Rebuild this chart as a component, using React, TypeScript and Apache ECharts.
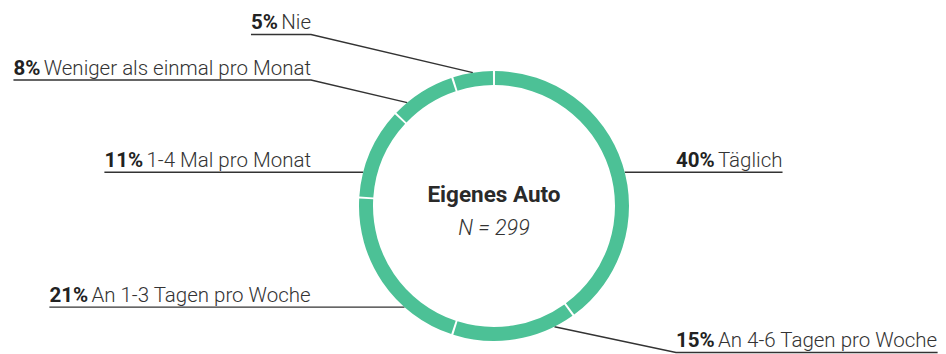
import React, { useEffect, useRef } from "react";
import * as echarts from "echarts";

const categories = [
  "Täglich",
  "An 4-6 Tagen pro Woche",
  "An 1-3 Tagen pro Woche",
  "1-4 Mal pro Monat",
  "Weniger als einmal pro Monat",
  "Nie",
];
const values = [40, 15, 21, 11, 8, 5];
const centerTitle = "Eigenes Auto";
const centerSubtitle = "N = 299";

// label layout: side, anchor angle on ring (deg clockwise from top), underline y (null = anchor y)
const labelSide = ["right", "right", "left", "left", "left", "left"];
const anchorAngle = [75.5, 153.4, 221.5, 284.5, 320, 351];
const underlineY: (number | null)[] = [null, 352.5, null, null, 80, 34.5];

const FONT = "Roboto, 'Noto Sans', sans-serif";
const CX = 494;
const CY = 206;
const R_IN = 121;
const R_OUT = 135;
const LEFT_TEXT_X = 311;
const RIGHT_TEXT_X = 676;

export default function App() {
  const ref = useRef<HTMLDivElement>(null);
  useEffect(() => {
    if (!ref.current) return;
    const chart = echarts.init(ref.current, undefined, { renderer: "svg" });
    chart.setOption({
      animation: false,
      backgroundColor: "#ffffff",
      graphic: [
        {
          type: "text",
          x: CX,
          y: 194,
          style: {
            text: centerTitle,
            align: "center",
            verticalAlign: "middle",
            fontFamily: FONT,
            fontSize: 22.5,
            fontWeight: "bold",
            fill: "#2a2a2a",
          },
        },
        {
          type: "text",
          x: CX,
          y: 227,
          style: {
            text: centerSubtitle,
            align: "center",
            verticalAlign: "middle",
            fontFamily: FONT,
            fontSize: 21.5,
            fontStyle: "italic",
            fontWeight: 300,
            fill: "#333333",
          },
        },
      ],
      series: [
        {
          type: "pie",
          center: [CX, CY],
          radius: [R_IN, R_OUT],
          startAngle: 90,
          clockwise: true,
          padAngle: 0.9,
          avoidLabelOverlap: false,
          itemStyle: { color: "#4cc196" },
          emphasis: { disabled: true },
          label: {
            show: true,
            position: "outside",
            formatter: "{p|{c}%} {t|{b}}",
            color: "#333333",
            rich: {
              p: { fontFamily: FONT, fontSize: 20.5, fontWeight: "bold", color: "#222222" },
              t: { fontFamily: FONT, fontSize: 20.5, fontWeight: 300, color: "#333333" },
            },
          },
          labelLine: {
            show: true,
            length: 10,
            length2: 10,
            lineStyle: { color: "#333333", width: 1.4 },
          },
          labelLayout: (params: any) => {
            const i = params.dataIndex;
            const a = (anchorAngle[i] * Math.PI) / 180;
            const sx = CX + R_OUT * Math.sin(a);
            const sy = CY - R_OUT * Math.cos(a);
            const uy = underlineY[i] == null ? sy : (underlineY[i] as number);
            const w = params.labelRect.width;
            const isLeft = labelSide[i] === "left";
            let corner: number[];
            let end: number[];
            let tx: number;
            if (isLeft) {
              tx = LEFT_TEXT_X - w;
              corner = underlineY[i] == null ? [sx, uy] : [LEFT_TEXT_X, uy];
              end = [tx, uy];
            } else {
              tx = RIGHT_TEXT_X;
              corner = underlineY[i] == null ? [sx, uy] : [RIGHT_TEXT_X, uy];
              end = [RIGHT_TEXT_X + w, uy];
            }
            return {
              x: tx,
              y: uy - 2,
              align: "left",
              verticalAlign: "bottom",
              labelLinePoints: [[sx, sy], corner, end],
            };
          },
          data: categories.map((c, i) => ({ name: c, value: values[i] })),
        },
      ],
    });
    return () => chart.dispose();
  }, []);
  return (
    <div
      ref={ref}
      style={{ position: "fixed", left: 0, top: 0, width: 946, height: 354 }}
    />
  );
}
